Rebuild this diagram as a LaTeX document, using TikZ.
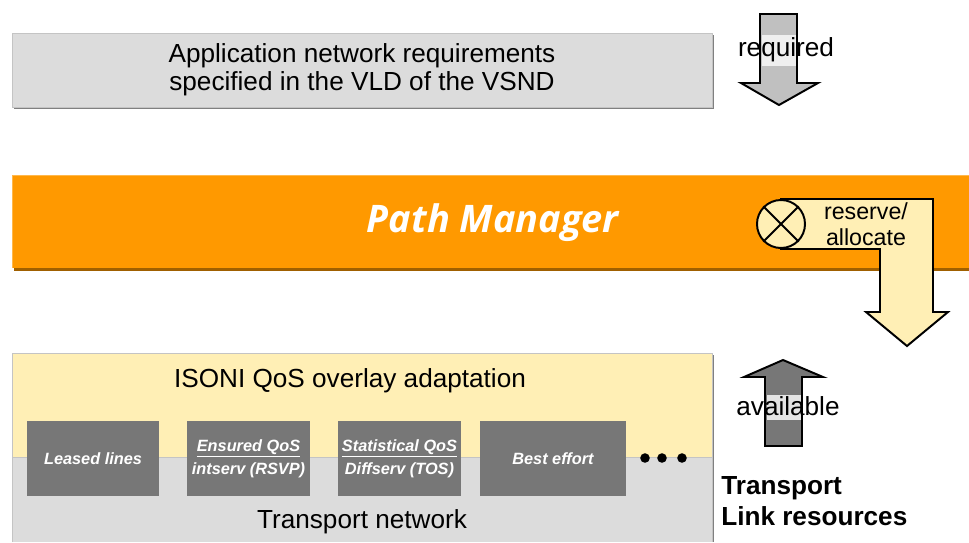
\documentclass[tikz,border=0pt]{standalone}
\usepackage{fontspec}
\setmainfont{Liberation Sans}
\newfontfamily\pmfont{Open Sans}
\usetikzlibrary{calc}
\definecolor{boxgray}{HTML}{DCDCDC}
\definecolor{edgegray}{HTML}{C4C4C4}
\definecolor{shadegray}{HTML}{808080}
\definecolor{pmorange}{HTML}{FF9900}
\definecolor{pmshadow}{HTML}{A06000}
\definecolor{lightyel}{HTML}{FFEFB5}
\definecolor{qosgray}{HTML}{777777}
\definecolor{arrgray}{HTML}{C0C0C0}

\tikzset{
  bigtext/.style={font=\fontsize{18.6}{18.6}\selectfont, align=center, inner sep=0},
  qosbox/.style={fill=qosgray, text=white, align=center, inner sep=0,
    minimum height=1.875cm, font=\bfseries\itshape\fontsize{11.6}{16.4}\selectfont},
  blockarrow/.style={draw=black, line width=1.4pt, line join=miter}
}

\begin{document}
\begin{tikzpicture}[x=0.025cm, y=-0.025cm]

\useasboundingbox (0,0) rectangle (969,542);

% application requirements
\fill[shadegray] (14,35) rectangle (714,109);
\draw[edgegray, fill=boxgray] (12,33) rectangle (712,107);
\node[bigtext] (appreq) at (362,70) {Application network requirements\\[1pt]specified in the VLD of the VSND};

\draw[blockarrow, fill=arrgray] (760,14) -- (797,14) -- (797,83) -- (818,83) -- (779,105) -- (741,83) -- (760,83) -- cycle;
\fill[white!75!arrgray] (761.5,35) rectangle (795.5,66);
\node[bigtext] (required) at (786,50) {required};

% path manager
\fill[pmshadow] (14,178) rectangle (969,271);
\fill[pmorange] (12,175) rectangle (969,268);
\draw[pmorange!70!white] (12,268) -- (12,175) -- (969,175);
\node[font=\pmfont\bfseries\itshape\fontsize{27}{27}\selectfont, text=white] (pm) at (493,223) {Path Manager};

\draw[blockarrow, fill=lightyel] (781,199) -- (933,199) -- (933,312) -- (948,312) -- (907,346) -- (866,312) -- (880,312) -- (880,249) -- (781,249) -- cycle;
\node[circle, draw, line width=1.4pt, fill=lightyel, minimum size=1.2cm, inner sep=0] (valve) at (781,224) {};
\draw[line width=1.4pt] (valve.north west) -- (valve.south east);
\draw[line width=1.4pt] (valve.north east) -- (valve.south west);
\node[font=\fontsize{16.5}{18.5}\selectfont, align=center, inner sep=0] (reserve) at (866,224) {reserve/\\allocate};

% transport
\fill[shadegray] (14,355) rectangle (714,542);
\fill[lightyel] (12,353) rectangle (712,457);
\fill[boxgray] (12,457) rectangle (712,542);
\draw[edgegray] (12,542) -- (12,353) -- (712,353) -- (712,542);
\draw[edgegray] (12,457) -- (712,457);
\node[bigtext] (isoni) at (350,381) {ISONI QoS overlay adaptation};
\node[bigtext] (tnet) at (362,522) {Transport network};

\node[qosbox, minimum width=3.3cm] (leased) at (93,458.5) {Leased lines};
\node[qosbox, minimum width=3.075cm] (ensured) at (248.5,458.5) {\underline{Ensured QoS}\\intserv (RSVP)};
\node[qosbox, minimum width=3.075cm] (statqos) at (399.5,458.5) {\underline{Statistical QoS}\\Diffserv (TOS)};
\node[qosbox, minimum width=3.65cm] (besteff) at (553,458.5) {Best effort};
\foreach \x in {645,662,682}
  \fill (\x,458) circle (3.4pt);

\draw[blockarrow, fill=qosgray] (765,446) -- (765,377) -- (744,377) -- (783,360) -- (823,377) -- (802,377) -- (802,446) -- cycle;
\fill[white!80!qosgray] (766.5,395) rectangle (800.5,420);
\node[bigtext] (avail) at (788,406) {available};

\node[bigtext, align=left, anchor=west, font=\bfseries\fontsize{18.6}{22}\selectfont] (tlink) at (721,501) {Transport\\Link resources};

\end{tikzpicture}
\end{document}
